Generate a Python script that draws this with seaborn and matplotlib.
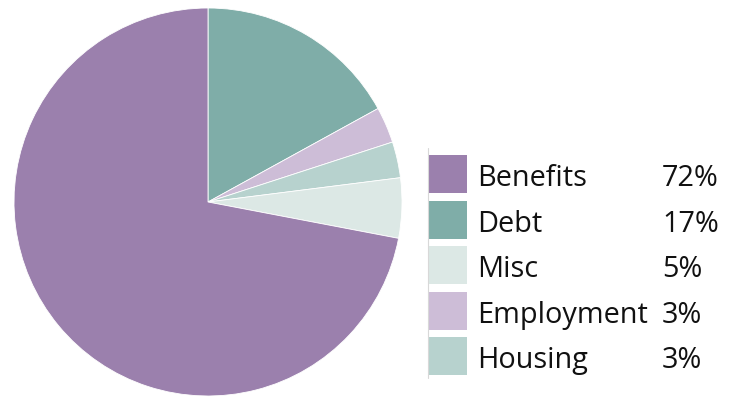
import matplotlib
matplotlib.use("Agg")
import matplotlib.pyplot as plt
from matplotlib.patches import Rectangle
import seaborn as sns

# Slices in drawing order (clockwise from 12 o'clock)
pie_labels = ["Debt", "Employment", "Housing", "Misc", "Benefits"]
pie_values = [17, 3, 3, 5, 72]

# Legend order
legend_labels = ["Benefits", "Debt", "Misc", "Employment", "Housing"]
legend_values = [72, 17, 5, 3, 3]

palette = {
    "Benefits": "#9b80ad",
    "Debt": "#7fada8",
    "Misc": "#dce8e5",
    "Employment": "#cdbdd7",
    "Housing": "#b7d2ce",
}

sns.set_theme(style="white")
plt.rcParams["font.family"] = ["Open Sans", "DejaVu Sans"]

W, H = 739, 399
fig = plt.figure(figsize=(W / 100, H / 100), dpi=100)

# Pie axes: centre (208, 202) px, radius 194 px
cx, cy, r = 208, 202, 194
ax = fig.add_axes([(cx - r) / W, (H - cy - r) / H, 2 * r / W, 2 * r / H])
ax.pie(
    pie_values,
    colors=[palette[k] for k in pie_labels],
    startangle=90,
    counterclock=False,
    radius=1.0,
    wedgeprops=dict(edgecolor="white", linewidth=0.6),
)
ax.set_xlim(-1, 1)
ax.set_ylim(-1, 1)
ax.set_aspect("equal")
ax.axis("off")

# Legend axes in pixel units (y pointing down)
lax = fig.add_axes([0, 0, 1, 1])
lax.set_xlim(0, W)
lax.set_ylim(H, 0)
lax.axis("off")

row0, step, sw_h = 155, 45.6, 38
lax.plot([427.5, 427.5], [148, 378], color="#d8d8d8", lw=0.8)
for i, (lab, val) in enumerate(zip(legend_labels, legend_values)):
    top = row0 + i * step
    lax.add_patch(Rectangle((428, top), 39, sw_h, facecolor=palette[lab], edgecolor="none"))
    base = top + 31
    lax.text(477, base, lab, fontsize=20.8, va="baseline", ha="left", color="#111111")
    lax.text(662, base, f"{val}%", fontsize=20.8, va="baseline", ha="left", color="#111111")

fig.savefig("out.png", dpi=100)
